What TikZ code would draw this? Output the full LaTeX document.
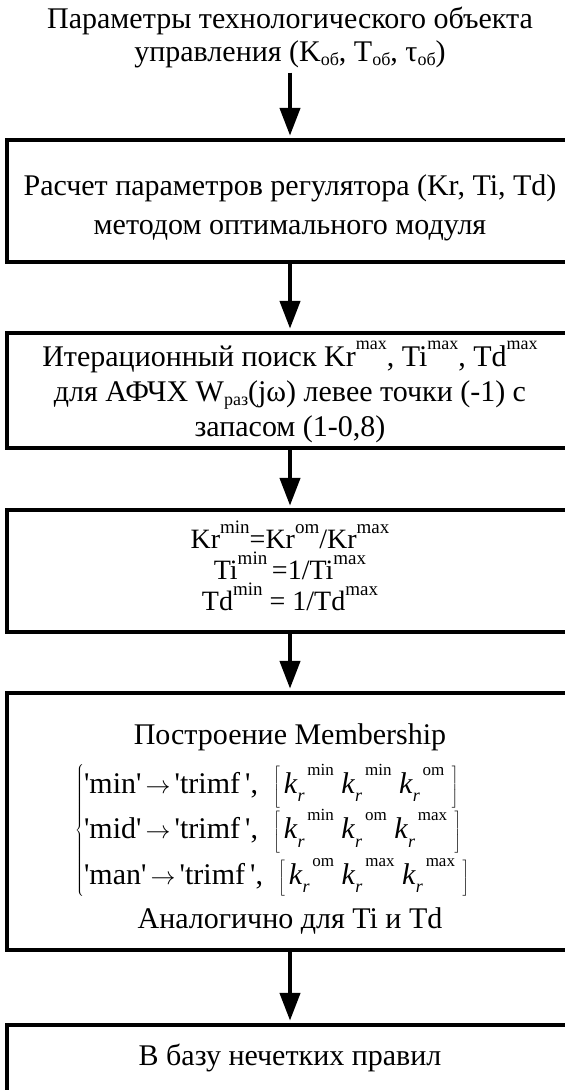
\documentclass[tikz,border=0pt]{standalone}
\usepackage{fontspec}
\setmainfont{Liberation Serif}
\usetikzlibrary{arrows.meta}
\newcommand\sps[2][18]{\raisebox{0.55em}{\fontsize{#1}{#1}\selectfont #2}}
\newcommand\sbs[2][18]{\raisebox{-0.15em}{\fontsize{#1}{#1}\selectfont #2}}
\newcommand\kk[1]{\textit{k}\raisebox{-0.28em}{\fontsize{18}{18}\selectfont\textit{r}}\raisebox{0.6em}{\fontsize{17}{17}\selectfont\,#1}}
\newcommand\q{\textquotesingle}
\newcommand\eqrow[4]{\q#1\q$\,\rightarrow\,$\q trimf\,\q, \ $\left[\,\mbox{\kk{#2}\ \kk{#3}\ \kk{#4}}\ \right]$}
\begin{document}
\begin{tikzpicture}[x=1pt,y=-1pt,
  every node/.style={font=\fontsize{30}{33}\selectfont},
  box/.style={draw, line width=4.5pt, minimum width=566pt, inner sep=0pt},
  txt/.style={align=center, inner sep=0pt},
  arr/.style={line width=4.5pt, shorten >=2pt, -{Triangle[length=28pt,width=20pt]}}]
\useasboundingbox (0,0) rectangle (565,1090);
\node[txt, inner sep=5pt] (title) at (290,37) {Параметры технологического объекта\\управления (K\sbs{об}, T\sbs{об}, τ\sbs{об})};
\node[box, minimum height=122pt] (b1) at (290,201) {};
\node[txt, font=\fontsize{30}{39}\selectfont] (t1) at (290,208) {Расчет параметров регулятора (Kr, Ti, Td)\\методом оптимального модуля};
\node[box, minimum height=115pt] (b2) at (290,390.5) {};
\node[txt, font=\fontsize{30}{35}\selectfont] (t2) at (290,392) {Итерационный поиск Kr\sps{max}, Ti\sps{max}, Td\sps{max}\\для АФЧХ W\sbs{раз}(jω) левее точки (-1) с\\запасом (1-0,8)};
\node[box, minimum height=122pt] (b3) at (290,571) {};
\node[txt, font=\fontsize{28}{31}\selectfont] (t3) at (290,566) {Kr\sps[19]{min}=Kr\sps[19]{om}/Kr\sps[19]{max}\\Ti\sps[19]{min}\,=1/Ti\sps[19]{max}\\Td\sps[19]{min} = 1/Td\sps[19]{max}};
\node[box, minimum height=257pt] (b4) at (290,821.5) {};
\node[txt] (h4) at (290,737) {Построение Membership};
\node[anchor=west, inner sep=0pt] (eq) at (75,830) {$\left\{\vcenter{\hbox{\fontsize{30}{44}\selectfont\begin{tabular}{@{}l@{}}\eqrow{min}{min}{min}{om}\\\eqrow{mid}{min}{om}{max}\\\eqrow{man}{om}{max}{max}\end{tabular}}}\right.$};
\node[txt] (f4) at (290,921) {Аналогично для Ti и Td};
\node[box, minimum height=74pt] (b5) at (290,1062) {};
\node[txt] (t5) at (290,1058) {В базу нечетких правил};
\draw[arr] (title.south) -- (b1.north);
\draw[arr] (b1.south) -- (b2.north);
\draw[arr] (b2.south) -- (b3.north);
\draw[arr] (b3.south) -- (b4.north);
\draw[arr] (b4.south) -- (b5.north);
\end{tikzpicture}
\end{document}
